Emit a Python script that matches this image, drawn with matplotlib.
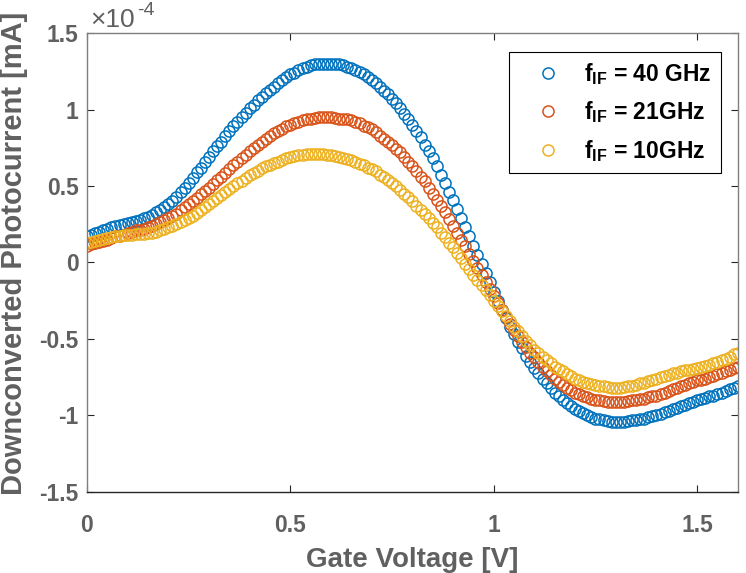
import matplotlib

matplotlib.use("Agg")
import matplotlib.pyplot as plt
import numpy as np
from matplotlib.ticker import FixedLocator, FuncFormatter

# gate voltage sweep, 10 mV steps
gate_voltage = np.linspace(0.0, 1.6, 161)

# downconverted photocurrent, in units of 1e-4 mA
current_40ghz = [
    0.17, 0.18, 0.19, 0.20, 0.21, 0.22, 0.23, 0.24, 0.245, 0.25,
    0.26, 0.265, 0.27, 0.28, 0.29, 0.30, 0.31, 0.33, 0.345, 0.36,
    0.38, 0.40, 0.43, 0.46, 0.49, 0.52, 0.55, 0.59, 0.62, 0.66,
    0.69, 0.73, 0.76, 0.79, 0.83, 0.86, 0.89, 0.92, 0.95, 0.98,
    1.01, 1.03, 1.06, 1.08, 1.11, 1.13, 1.15, 1.17, 1.19, 1.21,
    1.23, 1.24, 1.26, 1.27, 1.28, 1.29, 1.295, 1.30, 1.30, 1.30,
    1.30, 1.30, 1.295, 1.29, 1.28, 1.27, 1.26, 1.245, 1.23, 1.21,
    1.19, 1.17, 1.15, 1.12, 1.10, 1.07, 1.04, 1.01, 0.97, 0.94,
    0.90, 0.86, 0.82, 0.77, 0.73, 0.68, 0.63, 0.57, 0.52, 0.46,
    0.41, 0.35, 0.29, 0.23, 0.17, 0.11, 0.05, -0.01, -0.07, -0.13,
    -0.19, -0.25, -0.31, -0.36, -0.42, -0.47, -0.52, -0.56, -0.61, -0.65,
    -0.69, -0.72, -0.76, -0.79, -0.82, -0.85, -0.87, -0.90, -0.92, -0.94,
    -0.96, -0.97, -0.985, -1.00, -1.01, -1.02, -1.025, -1.03, -1.035, -1.04,
    -1.04, -1.04, -1.04, -1.035, -1.03, -1.03, -1.025, -1.02, -1.01, -1.005,
    -1.00, -0.99, -0.98, -0.97, -0.96, -0.95, -0.94, -0.93, -0.92, -0.91,
    -0.90, -0.89, -0.885, -0.875, -0.87, -0.86, -0.85, -0.84, -0.83, -0.82,
    -0.81,
]
current_21ghz = [
    0.11, 0.12, 0.13, 0.135, 0.14, 0.15, 0.16, 0.17, 0.175, 0.18,
    0.19, 0.20, 0.21, 0.215, 0.22, 0.23, 0.24, 0.25, 0.265, 0.275,
    0.29, 0.305, 0.32, 0.34, 0.36, 0.38, 0.40, 0.42, 0.445, 0.47,
    0.49, 0.515, 0.54, 0.56, 0.585, 0.61, 0.635, 0.66, 0.68, 0.705,
    0.73, 0.75, 0.77, 0.79, 0.81, 0.83, 0.845, 0.86, 0.875, 0.89,
    0.90, 0.91, 0.92, 0.93, 0.935, 0.94, 0.945, 0.95, 0.95, 0.95,
    0.95, 0.945, 0.94, 0.94, 0.935, 0.93, 0.92, 0.91, 0.895, 0.885,
    0.87, 0.85, 0.83, 0.81, 0.79, 0.77, 0.745, 0.72, 0.69, 0.66,
    0.63, 0.60, 0.56, 0.53, 0.49, 0.45, 0.41, 0.37, 0.33, 0.285,
    0.24, 0.195, 0.15, 0.105, 0.055, 0.01, -0.035, -0.08, -0.13, -0.175,
    -0.22, -0.265, -0.31, -0.355, -0.40, -0.44, -0.48, -0.52, -0.55, -0.59,
    -0.62, -0.65, -0.68, -0.71, -0.735, -0.76, -0.78, -0.80, -0.82, -0.835,
    -0.85, -0.86, -0.87, -0.88, -0.89, -0.90, -0.90, -0.905, -0.91, -0.91,
    -0.91, -0.91, -0.91, -0.905, -0.90, -0.90, -0.895, -0.89, -0.88, -0.875,
    -0.87, -0.86, -0.85, -0.84, -0.83, -0.82, -0.81, -0.80, -0.79, -0.78,
    -0.77, -0.765, -0.76, -0.75, -0.74, -0.73, -0.72, -0.71, -0.70, -0.69,
    -0.68,
]
current_10ghz = [
    0.13, 0.135, 0.14, 0.15, 0.155, 0.16, 0.165, 0.17, 0.175, 0.178,
    0.18, 0.182, 0.184, 0.186, 0.188, 0.19, 0.195, 0.20, 0.21, 0.22,
    0.23, 0.24, 0.25, 0.265, 0.275, 0.29, 0.305, 0.325, 0.345, 0.36,
    0.38, 0.40, 0.42, 0.44, 0.46, 0.48, 0.50, 0.52, 0.535, 0.555,
    0.57, 0.585, 0.60, 0.615, 0.63, 0.64, 0.65, 0.66, 0.67, 0.68,
    0.69, 0.695, 0.70, 0.705, 0.708, 0.71, 0.71, 0.71, 0.71, 0.705,
    0.70, 0.695, 0.69, 0.685, 0.675, 0.67, 0.66, 0.645, 0.635, 0.62,
    0.61, 0.595, 0.575, 0.56, 0.54, 0.52, 0.50, 0.475, 0.45, 0.425,
    0.40, 0.37, 0.345, 0.315, 0.29, 0.26, 0.23, 0.195, 0.165, 0.13,
    0.10, 0.065, 0.03, -0.01, -0.045, -0.08, -0.115, -0.15, -0.18, -0.215,
    -0.25, -0.285, -0.32, -0.35, -0.385, -0.42, -0.45, -0.48, -0.51, -0.54,
    -0.57, -0.59, -0.615, -0.635, -0.66, -0.68, -0.695, -0.71, -0.73, -0.745,
    -0.76, -0.77, -0.78, -0.79, -0.795, -0.80, -0.805, -0.81, -0.815, -0.82,
    -0.82, -0.82, -0.815, -0.81, -0.805, -0.80, -0.79, -0.785, -0.775, -0.77,
    -0.76, -0.75, -0.74, -0.735, -0.725, -0.72, -0.71, -0.705, -0.70, -0.695,
    -0.69, -0.685, -0.675, -0.67, -0.66, -0.65, -0.64, -0.63, -0.615, -0.60,
    -0.59,
]

series_labels = [
    r"$\mathbf{f_{IF}}$ = 40 GHz",
    r"$\mathbf{f_{IF}}$ = 21GHz",
    r"$\mathbf{f_{IF}}$ = 10GHz",
]
series_colors = ["#0072BD", "#D95319", "#EDB120"]

x_ticks = [0, 0.5, 1, 1.5]
y_ticks = [-1.5, -1, -0.5, 0, 0.5, 1, 1.5]

plt.rcParams["font.family"] = ["Liberation Sans", "DejaVu Sans"]
plt.rcParams["mathtext.fontset"] = "custom"
plt.rcParams["mathtext.rm"] = "Liberation Sans"
plt.rcParams["mathtext.bf"] = "Liberation Sans:bold"
plt.rcParams["axes.unicode_minus"] = False

axis_grey = "#606060"

fig = plt.figure(figsize=(7.46, 5.73), dpi=100)
ax = fig.add_axes([0.1166, 0.1414, 0.8724, 0.801])

for values, color, label in zip(
    [current_40ghz, current_21ghz, current_10ghz], series_colors, series_labels
):
    ax.plot(
        gate_voltage,
        values,
        "o",
        markerfacecolor="none",
        markeredgecolor=color,
        markersize=8,
        markeredgewidth=1.1,
        label=label,
    )

ax.set_xlim(0, 1.6)
ax.set_ylim(-1.5, 1.5)
ax.xaxis.set_major_locator(FixedLocator(x_ticks))
ax.yaxis.set_major_locator(FixedLocator(y_ticks))
ax.xaxis.set_major_formatter(FuncFormatter(lambda v, _: f"{v:g}"))
ax.yaxis.set_major_formatter(FuncFormatter(lambda v, _: f"{v:g}"))

ax.tick_params(
    direction="in",
    top=True,
    right=True,
    length=5,
    width=0.8,
    color="#262626",
    labelsize=16.5,
    labelcolor=axis_grey,
)
ax.tick_params(axis="x", pad=16)
ax.tick_params(axis="y", pad=6)
for lbl in ax.get_xticklabels() + ax.get_yticklabels():
    lbl.set_fontweight("bold")

for side in ["left", "top", "right"]:
    ax.spines[side].set_color("#7f7f7f")
    ax.spines[side].set_linewidth(1.0)
ax.spines["bottom"].set_color("#262626")
ax.spines["bottom"].set_linewidth(1.0)

ax.set_xlabel("Gate Voltage [V]", fontsize=20, fontweight="bold", color=axis_grey, labelpad=7)
ax.set_ylabel(
    "Downconverted Photocurrent [mA]",
    fontsize=21,
    fontweight="bold",
    color=axis_grey,
)
ax.yaxis.set_label_coords(-0.09, 0.52)

# exponent label, MATLAB style
fig.text(90 / 746, 1 - 27 / 573, "×10", fontsize=19, color=axis_grey)
fig.text(137 / 746, 1 - 15 / 573, "-4", fontsize=14, color=axis_grey)

leg = ax.legend(
    loc="upper right",
    bbox_to_anchor=(0.974, 0.959),
    borderaxespad=0,
    fancybox=False,
    edgecolor="black",
    framealpha=1,
    fontsize=16.5,
    numpoints=1,
    handlelength=2.6,
    handletextpad=0.3,
    labelspacing=0.55,
    borderpad=0.4,
)
leg.get_frame().set_linewidth(0.8)
for txt in leg.get_texts():
    txt.set_fontweight("bold")
    txt.set_color("black")

fig.savefig("out.png", dpi=100)
